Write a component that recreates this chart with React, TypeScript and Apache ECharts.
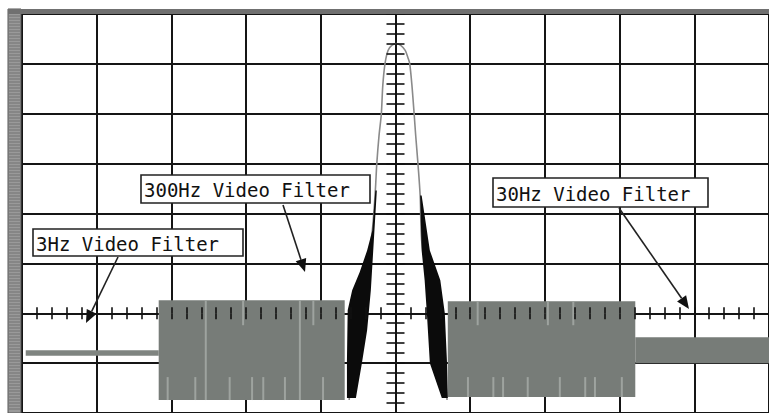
import React, { useEffect, useRef } from "react";
import * as echarts from "echarts";

// Axis ranges (graticule divisions of 10 units)
const X_MIN = -50;
const X_MAX = 50;
const X_STEP = 10;
const Y_MIN = -20;
const Y_MAX = 60;
const Y_STEP = 10;

// Noise bands: [xStart, xEnd, yLow, yHigh]
const band3Hz = [[-49.5, -31.7, -8.5, -7.4]];
const band300Hz = [[-31.7, -6.8, -17.4, 2.6]];
const band30Hz = [
  [7.0, 32.1, -16.8, 2.4],
  [32.1, 50.2, -10.0, -4.8],
];

// Dense black skirts of the 300Hz trace near the carrier: [x, y]
const leftSkirt = [
  [-2.7, 24.6], [-3.1, 16.6], [-3.8, 12.6], [-4.8, 8.2], [-5.8, 4.6], [-6.4, 0.6],
  [-6.5, -9.4], [-6.5, -17.0], [-5.3, -17.0], [-4.5, -10.0], [-3.8, -3.4],
  [-3.3, 4.6], [-2.9, 14.6], [-2.5, 24.6],
];
const rightSkirt = [
  [3.5, 23.6], [4.6, 12.6], [6.0, 6.6], [6.6, 0.0], [6.9, -10.0], [7.0, -17.0],
  [6.2, -17.0], [4.6, -10.0], [4.2, 0.0], [3.9, 6.6], [3.5, 12.6], [3.3, 23.6],
];

// Carrier peak trace: [x, y]
const peakTrace = [
  [-6.2, -17.4], [-5.8, -9.4], [-5.3, -1.4], [-4.5, 4.6], [-3.7, 10.6], [-3.1, 16.6],
  [-2.7, 24.6], [-2.5, 30.1], [-2.2, 35.7], [-1.9, 39.9], [-1.7, 45.7], [-1.4, 50.1],
  [-1.0, 52.7], [-0.5, 53.7], [0.1, 54.1], [0.7, 53.7], [1.3, 52.7], [1.7, 51.1],
  [1.9, 50.1], [2.2, 45.7], [2.5, 39.9], [2.7, 35.7], [3.0, 30.1], [3.3, 23.6],
  [3.5, 14.6], [4.1, 8.6], [4.9, 2.6], [6.0, -3.4], [6.5, -9.4], [6.9, -17.4],
];

// Light streaks inside the noise bands: [x, yTop, yBottom]
const streaks300Hz = [
  [-30.5, -12.8, -17.4], [-26.8, -12.8, -17.4], [-25.4, 2.6, -17.4], [-22.2, -12.8, -17.4],
  [-20.4, 2.6, -2.4], [-19.2, -12.8, -17.4], [-17.7, -12.8, -17.4], [-14.8, -12.8, -17.4],
  [-12.8, 2.6, -17.4], [-11.0, 2.6, -2.4], [-9.7, -12.8, -17.4],
];
const streaks30Hz = [
  [9.7, -12.8, -16.8], [11.0, 2.4, -2.4], [13.1, -12.8, -16.8], [14.4, -12.8, -16.8],
  [17.7, -12.8, -16.8], [20.4, 2.4, -2.4], [22.0, -12.8, -16.8], [23.8, 2.4, -2.4],
  [25.4, -12.8, -16.8], [26.7, -12.8, -16.8], [30.3, -12.8, -16.8],
];

const labels = ["3Hz Video Filter", "300Hz Video Filter", "30Hz Video Filter"];

const GRAY = "#777c78";
const STREAK = "#9ea39f";
const INK = "#111111";

function bandSeries(data: number[][], color: string) {
  return {
    type: "custom",
    data,
    z: 2,
    silent: true,
    encode: { x: [0, 1], y: [2, 3] },
    renderItem: (_p: any, api: any) => {
      const a = api.coord([api.value(0), api.value(3)]);
      const b = api.coord([api.value(1), api.value(2)]);
      return {
        type: "rect",
        shape: { x: a[0], y: a[1], width: b[0] - a[0], height: b[1] - a[1] },
        style: { fill: color },
      };
    },
  };
}

function streakSeries(data: number[][]) {
  return {
    type: "custom",
    data,
    z: 3,
    silent: true,
    encode: { x: 0, y: [1, 2] },
    renderItem: (_p: any, api: any) => {
      const a = api.coord([api.value(0), api.value(1)]);
      const b = api.coord([api.value(0), api.value(2)]);
      return {
        type: "line",
        shape: { x1: a[0], y1: a[1], x2: b[0], y2: b[1] },
        style: { stroke: STREAK, lineWidth: 2 },
      };
    },
  };
}

function polySeries(points: number[][], color: string) {
  return {
    type: "custom",
    data: points,
    z: 4,
    silent: true,
    encode: { x: 0, y: 1 },
    renderItem: (params: any, api: any) => {
      if (params.dataIndex !== 0) return null;
      return {
        type: "polygon",
        shape: { points: points.map((p) => api.coord(p)) },
        style: { fill: color },
      };
    },
  };
}

function arrow(x1: number, y1: number, x2: number, y2: number) {
  const dx = x2 - x1;
  const dy = y2 - y1;
  const L = Math.hypot(dx, dy);
  const ux = dx / L;
  const uy = dy / L;
  const len = 13;
  const w = 5.5;
  const bx = x2 - ux * len;
  const by = y2 - uy * len;
  return [
    {
      type: "line",
      z: 20,
      shape: { x1, y1, x2: bx, y2: by },
      style: { stroke: "#222", lineWidth: 1.6 },
    },
    {
      type: "polygon",
      z: 20,
      shape: {
        points: [
          [x2, y2],
          [bx - uy * w, by + ux * w],
          [bx + uy * w, by - ux * w],
        ],
      },
      style: { fill: "#111" },
    },
  ];
}

function callout(text: string, x: number, y: number, w: number, h: number) {
  return [
    {
      type: "rect",
      z: 20,
      shape: { x, y, width: w, height: h },
      style: { fill: "#fff", stroke: "#222", lineWidth: 1.6 },
    },
    {
      type: "text",
      z: 21,
      style: {
        text,
        x: x + 3,
        y: y + h / 2 + 1,
        fontSize: 19,
        fontFamily: "DejaVu Sans Mono",
        fill: INK,
        verticalAlign: "middle",
        align: "left",
      },
    },
  ];
}

const App = () => {
  const ref = useRef<HTMLDivElement>(null);

  useEffect(() => {
    if (!ref.current) return;
    const chart = echarts.init(ref.current, null, { renderer: "svg" });

    const gridLine = { color: "#151515", width: 2 };
    const tickLine = { color: "#111", width: 1.6 };

    const mainX = {
      type: "value",
      min: X_MIN,
      max: X_MAX,
      interval: X_STEP,
      axisLabel: { show: false },
      axisTick: { show: false },
      axisLine: { show: true, onZero: true, lineStyle: gridLine },
      splitLine: { show: true, lineStyle: gridLine },
      z: 0,
    };
    const tickX = (position: string) => ({
      type: "value",
      position,
      min: X_MIN,
      max: X_MAX,
      interval: X_STEP,
      axisLabel: { show: false },
      splitLine: { show: false },
      axisLine: { show: false, onZero: true },
      axisTick: { show: true, length: 6, lineStyle: tickLine },
      minorTick: { show: true, splitNumber: 5, length: 6, lineStyle: tickLine },
      z: 6,
    });
    const mainY = {
      type: "value",
      min: Y_MIN,
      max: Y_MAX,
      interval: Y_STEP,
      axisLabel: { show: false },
      axisTick: { show: false },
      axisLine: { show: true, onZero: true, lineStyle: gridLine },
      splitLine: { show: true, lineStyle: gridLine },
      z: 0,
    };
    const tickY = (position: string) => ({
      type: "value",
      position,
      min: Y_MIN,
      max: Y_MAX,
      interval: Y_STEP,
      axisLabel: { show: false },
      splitLine: { show: false },
      axisLine: { show: false, onZero: true },
      axisTick: { show: true, length: 9, lineStyle: tickLine },
      minorTick: { show: true, splitNumber: 5, length: 9, lineStyle: tickLine },
      z: 6,
    });

    // left bezel with horizontal striations
    const bezel: any[] = [
      {
        type: "rect",
        z: 15,
        shape: { x: 8, y: 9, width: 13, height: 404 },
        style: { fill: "#9a9a9a", stroke: "#555", lineWidth: 1 },
      },
      {
        type: "rect",
        z: 15,
        shape: { x: 8, y: 9, width: 761, height: 5 },
        style: { fill: "#707070" },
      },
    ];
    for (let y = 16; y < 412; y += 3) {
      bezel.push({
        type: "line",
        z: 16,
        shape: { x1: 9, y1: y, x2: 20, y2: y },
        style: { stroke: "#727272", lineWidth: 1 },
      });
    }

    const graphics: any[] = [
      ...bezel,
      ...callout(labels[0], 33, 229, 210, 27),
      ...arrow(118, 257, 86, 323),
      ...callout(labels[1], 141, 175, 229, 28),
      ...arrow(283, 205, 305, 272),
      ...callout(labels[2], 493, 178, 215, 29),
      ...arrow(619, 208, 689, 309),
    ];

    chart.setOption({
      animation: false,
      backgroundColor: "#ffffff",
      grid: { left: 22, right: 0, top: 14, bottom: 0, containLabel: false },
      xAxis: [mainX, tickX("bottom"), tickX("top")],
      yAxis: [mainY, tickY("left"), tickY("right")],
      series: [
        bandSeries(band3Hz, "#7f8480"),
        bandSeries(band300Hz, GRAY),
        bandSeries(band30Hz, GRAY),
        streakSeries(streaks300Hz),
        streakSeries(streaks30Hz),
        {
          type: "line",
          data: peakTrace,
          smooth: 0.3,
          symbol: "none",
          silent: true,
          z: 3,
          lineStyle: { color: "#8a8a8a", width: 1.6 },
        },
        polySeries(leftSkirt, "#0b0b0b"),
        polySeries(rightSkirt, "#0b0b0b"),
      ],
      graphic: graphics,
    });

    return () => chart.dispose();
  }, []);

  return (
    <div
      ref={ref}
      style={{ position: "fixed", left: 0, top: 0, width: 769, height: 413, background: "#fff" }}
    />
  );
};

export default App;
